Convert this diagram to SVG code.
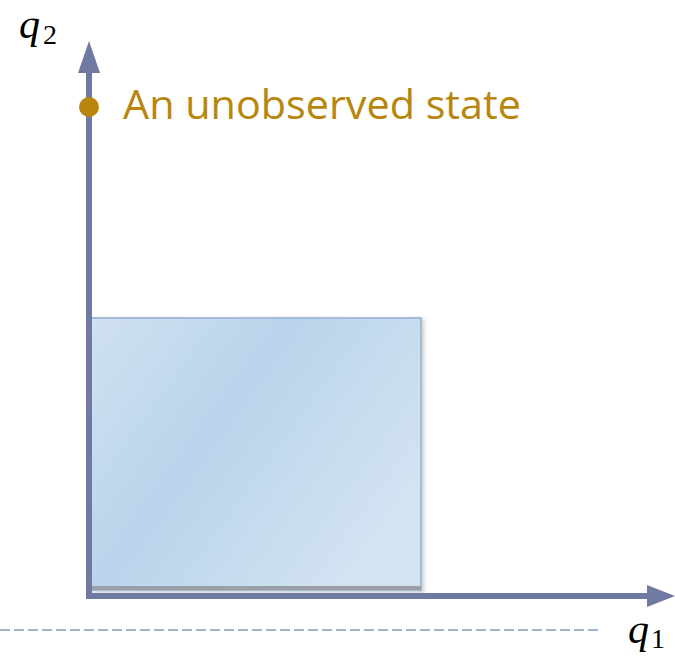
<svg xmlns="http://www.w3.org/2000/svg" width="675" height="656" viewBox="0 0 675 656">
<defs>
<style>
.axis{stroke:#7079a2;stroke-width:6;fill:none}
.head{fill:#7079a2}
.math{font-family:"Liberation Serif","DejaVu Serif",serif;font-style:italic;fill:#000}
.sub{font-family:"Liberation Serif","DejaVu Serif",serif;font-style:normal;fill:#000}
.lbl{font-family:"Open Sans","Noto Sans",sans-serif;fill:#b8860b}
</style>
<linearGradient id="g" x1="0" y1="0" x2="1" y2="0.6">
<stop offset="0" stop-color="#d0e1f1"/>
<stop offset="0.45" stop-color="#b9d4eb"/>
<stop offset="1" stop-color="#d3e3f2"/>
</linearGradient>
<filter id="sh" x="-5%" y="-5%" width="115%" height="115%">
<feDropShadow dx="2" dy="2" stdDeviation="2" flood-color="#000" flood-opacity="0.2"/>
</filter>
</defs>
<g id="region">
<rect x="91" y="318" width="330" height="272" fill="url(#g)" stroke="#a3bdd8" stroke-width="2" filter="url(#sh)"/>
<rect x="91" y="586" width="330" height="4" fill="#9a9ea6"/>
</g>
<line x1="0" y1="630" x2="600" y2="630" stroke="#a0b6cf" stroke-width="2" stroke-dasharray="10,4"/>
<g id="connectors">
<line class="axis" x1="89" y1="596" x2="89" y2="70"/>
<polygon class="head" points="89,41 78,73 100,73"/>
<line class="axis" x1="86" y1="596" x2="650" y2="596"/>
<polygon class="head" points="675,596 647,585 647,607"/>
</g>
<g id="q2">
<text class="math" x="19" y="38" font-size="42">q</text>
<text class="sub" x="43" y="44" font-size="28">2</text>
</g>
<g id="q1">
<text class="math" x="628" y="643" font-size="42">q</text>
<text class="sub" x="651" y="648" font-size="28">1</text>
</g>
<g id="state">
<circle cx="89" cy="107" r="10" fill="#b8860b"/>
<text class="lbl" x="123" y="119" font-size="41" textLength="398" lengthAdjust="spacingAndGlyphs">An unobserved state</text>
</g>
</svg>
